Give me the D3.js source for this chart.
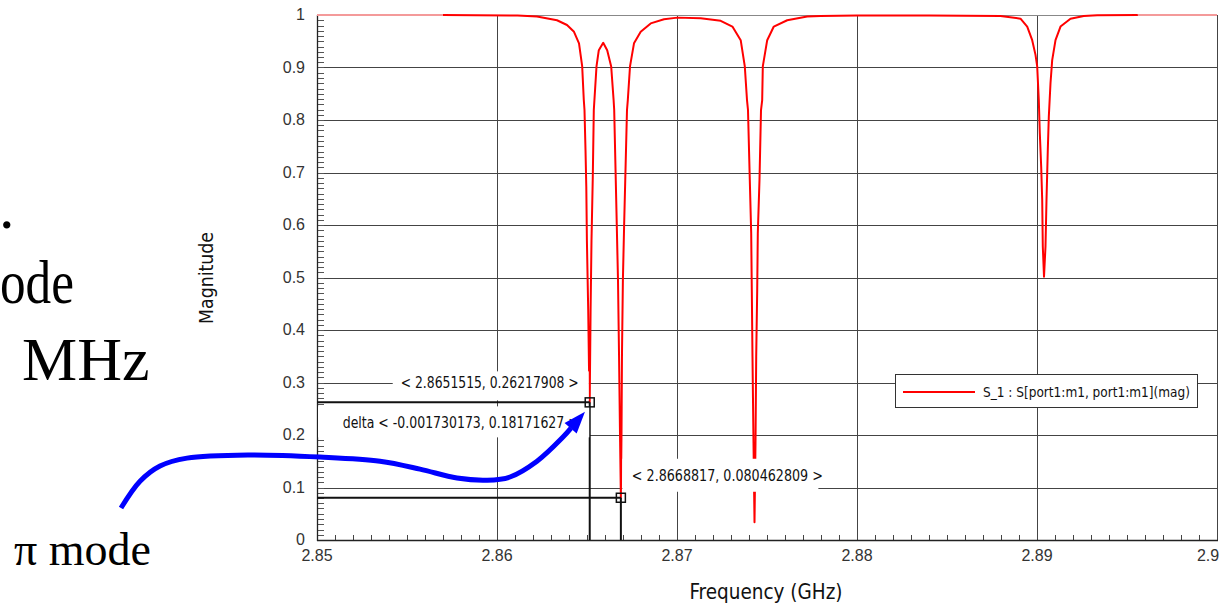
<!DOCTYPE html>
<html><head><meta charset="utf-8">
<script src="https://cdn.jsdelivr.net/npm/d3@7"></script>
<style>
html,body{margin:0;padding:0;background:#fff;}
svg{display:block;}
.tick-label{font-family:"Liberation Sans",Arial,sans-serif;font-size:16px;fill:#333;}
.ann{font-family:"Liberation Sans Narrow","DejaVu Sans Condensed","Liberation Sans",sans-serif;font-size:16px;fill:#111;}
.slide{font-family:"Liberation Serif","Times New Roman",serif;fill:#000;}
</style></head>
<body>
<svg id="chart" width="1221" height="607"></svg>
<script>
// ---------- data ----------
const freq = [2.850000,2.857000,2.861139,2.862222,2.863333,2.863889,2.864278,2.864556,2.864733,2.864822,2.864861,2.864917,2.864961,2.864994,2.865067,2.865111,2.865150,2.865200,2.865250,2.865322,2.865378,2.865528,2.865656,2.865900,2.866122,2.866344,2.866478,2.866511,2.866656,2.866722,2.866778,2.866833,2.866882,2.866917,2.866944,2.866994,2.867061,2.867222,2.867267,2.867389,2.867611,2.867983,2.868539,2.869278,2.870022,2.871317,2.872428,2.873078,2.873539,2.873767,2.873889,2.873944,2.874044,2.874122,2.874156,2.874194,2.874250,2.874306,2.874361,2.874400,2.874456,2.874489,2.874583,2.874667,2.874733,2.874767,2.875011,2.875378,2.876122,2.877233,2.877972,2.880000,2.884000,2.887972,2.889083,2.889456,2.889733,2.889917,2.890011,2.890100,2.890156,2.890233,2.890289,2.890322,2.890389,2.890472,2.890528,2.890600,2.890656,2.890750,2.890844,2.891028,2.891306,2.891861,2.892600,2.893344,2.895611,2.900000];
const mag  = [1.0,1.0,0.999,0.997,0.990,0.981,0.968,0.946,0.902,0.838,0.819,0.743,0.673,0.571,0.438,0.330,0.262,0.438,0.571,0.692,0.819,0.902,0.933,0.947,0.933,0.902,0.838,0.819,0.597,0.495,0.356,0.203,0.0805,0.203,0.356,0.495,0.597,0.819,0.838,0.902,0.946,0.968,0.984,0.992,0.995,0.994,0.989,0.978,0.952,0.902,0.838,0.819,0.686,0.584,0.476,0.349,0.185,0.034,0.185,0.349,0.476,0.584,0.686,0.819,0.838,0.902,0.952,0.978,0.990,0.997,0.998,0.999,0.999,0.998,0.993,0.978,0.952,0.924,0.902,0.838,0.775,0.711,0.648,0.559,0.5015,0.559,0.648,0.743,0.806,0.870,0.914,0.952,0.978,0.993,0.998,0.9995,1.0,1.0];
const visibleRange = [2.857, 2.8956];

const xTicks = [2.85,2.86,2.87,2.88,2.89,2.90];
const xTickLabels = ["2.85","2.86","2.87","2.88","2.89","2.9"];
const yTicks = [0,0.1,0.2,0.3,0.4,0.5,0.6,0.7,0.8,0.9,1.0];
const yTickLabels = ["0","0.1","0.2","0.3","0.4","0.5","0.6","0.7","0.8","0.9","1"];

const markerFreq = [2.8651515, 2.8668817];
const markerMag = [0.26217908, 0.080462809];
const markerLabels = ["< 2.8651515, 0.26217908 >", "< 2.8668817, 0.080462809 >"];
const deltaLabel = "delta < -0.001730173, 0.18171627 >";

const legendLabel = "S_1 : S[port1:m1, port1:m1](mag)";
const xTitle = "Frequency (GHz)";
const yTitle = "Magnitude";

// slide text fragments visible at the left edge
const slideLines = [".", "ode", "MHz"];
const slideBottom = "π mode";

// blue annotation arrow, in data units (freq, mag)
const arrowFreq = [2.839111,2.840167,2.841278,2.842778,2.846278,2.850167,2.853500,2.855722,2.857778,2.859444,2.860722,2.862222,2.863667,2.864111];
const arrowMag  = [0.061,0.112,0.141,0.156,0.162,0.158,0.150,0.135,0.118,0.114,0.120,0.150,0.196,0.213];
const arrowTip = [2.864889, 0.2444];

// ---------- drawing ----------
const svg = d3.select("#chart");
const x = d3.scaleLinear().domain([2.85, 2.90]).range([317, 1217]);
const y = d3.scaleLinear().domain([0, 1]).range([540, 15]);
const c = v => Math.round(v) + 0.5;

// slide text (left)
svg.append("text").attr("class","slide").attr("x",-1).attr("y",228).style("font-size","62px").text(slideLines[0]);
svg.append("text").attr("class","slide").attr("x",0).attr("y",303).style("font-size","62px")
  .attr("textLength",74).attr("lengthAdjust","spacingAndGlyphs").text(slideLines[1]);
svg.append("text").attr("class","slide").attr("x",22).attr("y",380).style("font-size","62px").text(slideLines[2]);
svg.append("text").attr("class","slide").attr("x",14).attr("y",565).style("font-size","46px").text(slideBottom);

const g = svg.append("g");

// grid
g.selectAll(".hgrid").data(yTicks.filter(d=>d>0)).join("line")
  .attr("x1",x(2.85)).attr("x2",x(2.90))
  .attr("y1",d=>c(y(d))).attr("y2",d=>c(y(d)))
  .attr("stroke","#444").attr("stroke-width",1);
g.selectAll(".vgrid").data(xTicks.filter(d=>d>2.85)).join("line")
  .attr("x1",d=>c(x(d))).attr("x2",d=>c(x(d)))
  .attr("y1",y(1)).attr("y2",y(0))
  .attr("stroke","#444").attr("stroke-width",1);

// minor ticks
const yMinor = d3.range(0, 101).map(i => i/100);
g.selectAll(".ymin").data(yMinor).join("line")
  .attr("x1",x(2.85)).attr("x2",x(2.85)+7)
  .attr("y1",d=>c(y(d))).attr("y2",d=>c(y(d)))
  .attr("stroke","#555").attr("stroke-width",1);
const xMinor = d3.range(0, 51).map(i => 2.85 + i/1000);
g.selectAll(".xmin").data(xMinor).join("line")
  .attr("x1",d=>c(x(d))).attr("x2",d=>c(x(d)))
  .attr("y1",y(0)).attr("y2",y(0)-5)
  .attr("stroke","#444").attr("stroke-width",1);

// axes lines
g.append("line").attr("x1",c(x(2.85))).attr("x2",c(x(2.85))).attr("y1",y(1)).attr("y2",y(0)+1).attr("stroke","#222").attr("stroke-width",1.3);
g.append("line").attr("x1",x(2.85)).attr("x2",x(2.90)+1).attr("y1",c(y(0))).attr("y2",c(y(0))).attr("stroke","#222").attr("stroke-width",1.3);
g.append("line").attr("x1",x(2.85)).attr("x2",x(2.90)).attr("y1",c(y(1))).attr("y2",c(y(1))).attr("stroke","#888").attr("stroke-width",1);

// tick labels
g.selectAll(".ylab").data(yTicks).join("text").attr("class","tick-label")
  .attr("x",305).attr("y",d=>y(d)+5).attr("text-anchor","end")
  .text((d,i)=>yTickLabels[i]);
g.selectAll(".xlab").data(xTicks).join("text").attr("class","tick-label")
  .attr("x",d=>Math.min(x(d), 1208)).attr("y",561).attr("text-anchor","middle")
  .text((d,i)=>xTickLabels[i]);

// axis titles
svg.append("text").attr("class","ann").attr("x",766).attr("y",599).attr("text-anchor","middle")
  .attr("textLength",153).attr("lengthAdjust","spacingAndGlyphs").style("font-size","22px").text(xTitle);
svg.append("text").attr("class","ann").attr("transform","translate(213,278) rotate(-90)").attr("text-anchor","middle")
  .attr("textLength",92).attr("lengthAdjust","spacingAndGlyphs").style("font-size","19px").text(yTitle);

// curve
const series = freq.map((f,i)=>({f, m: mag[i]}));
const line = d3.line().x(d=>x(d.f)).y(d=>y(d.m));
const defs = svg.append("defs");
defs.append("clipPath").attr("id","clipIn").append("rect")
  .attr("x",x(visibleRange[0])).attr("y",0).attr("width",x(visibleRange[1])-x(visibleRange[0])).attr("height",607);
const clipOut = defs.append("clipPath").attr("id","clipOut");
clipOut.append("rect").attr("x",0).attr("y",0).attr("width",x(visibleRange[0])).attr("height",607);
clipOut.append("rect").attr("x",x(visibleRange[1])).attr("y",0).attr("width",1221-x(visibleRange[1])).attr("height",607);
g.append("path").datum(series).attr("d",line).attr("fill","none")
  .attr("stroke","#f49a9a").attr("stroke-width",2).attr("clip-path","url(#clipOut)");
g.append("path").datum(series).attr("d",line).attr("fill","none")
  .attr("stroke","#ff0000").attr("stroke-width",2).attr("stroke-linejoin","round").attr("clip-path","url(#clipIn)");

// marker guide lines
markerFreq.forEach((f,i)=>{
  const mx = x(f), my = y(markerMag[i]);
  g.append("line").attr("x1",x(2.85)).attr("x2",mx).attr("y1",my).attr("y2",my).attr("stroke","#111").attr("stroke-width",2);
  g.append("line").attr("x1",mx).attr("x2",mx).attr("y1",my).attr("y2",y(0)).attr("stroke","#111").attr("stroke-width",2);
});

// label boxes (white background) + text
function labelBox(x0, y0, w, h){
  g.append("rect").attr("x",x0).attr("y",y0).attr("width",w).attr("height",h).attr("fill","#fff");
}
const m1x = x(markerFreq[0]), m1y = y(markerMag[0]);
const m2x = x(markerFreq[1]), m2y = y(markerMag[1]);
labelBox(m1x-197, m1y-31, 196, 29);
labelBox(x(2.85)+1, m1y+4, m1x-x(2.85)-1.5, 31);
labelBox(m2x+1.5, m2y-39, 196, 33);
g.append("text").attr("class","ann").attr("x",m1x-100).attr("y",m1y-14).attr("text-anchor","middle")
  .attr("textLength",178).attr("lengthAdjust","spacingAndGlyphs").text(markerLabels[0]);
g.append("text").attr("class","ann").attr("x",m1x-11).attr("y",m1y+26).attr("text-anchor","end")
  .attr("textLength",236).attr("lengthAdjust","spacingAndGlyphs").text(deltaLabel);
g.append("text").attr("class","ann").attr("x",m2x+11).attr("y",m2y-17).attr("text-anchor","start")
  .attr("textLength",191).attr("lengthAdjust","spacingAndGlyphs").text(markerLabels[1]);

// marker squares
markerFreq.forEach((f,i)=>{
  g.append("rect").attr("x",x(f)-4.5).attr("y",y(markerMag[i])-4.5).attr("width",9).attr("height",9)
    .attr("fill","none").attr("stroke","#111").attr("stroke-width",1.5);
});

// legend
const lg = svg.append("g");
lg.append("rect").attr("x",895.5).attr("y",374.5).attr("width",302).attr("height",33).attr("fill","#fff").attr("stroke","#333").attr("stroke-width",1);
lg.append("line").attr("x1",903).attr("x2",975).attr("y1",392).attr("y2",392).attr("stroke","#ff0000").attr("stroke-width",2);
lg.append("text").attr("class","ann").attr("x",983).attr("y",396.5).style("font-size","14px")
  .attr("textLength",207).attr("lengthAdjust","spacingAndGlyphs").text(legendLabel);

// blue arrow
const arrowPts = arrowFreq.map((f,i)=>[x(f), y(arrowMag[i])]);
svg.append("path").attr("d", d3.line().curve(d3.curveCatmullRom)(arrowPts))
  .attr("fill","none").attr("stroke","#0000ff").attr("stroke-width",5).attr("stroke-linecap","butt");
const tip = [x(arrowTip[0]), y(arrowTip[1])];
const last = arrowPts[arrowPts.length-2];
const dx = tip[0]-last[0], dy = tip[1]-last[1], len = Math.hypot(dx,dy);
const ux = dx/len, uy = dy/len, headLen = 22, headW = 8;
const bx = tip[0]-ux*headLen, by = tip[1]-uy*headLen;
svg.append("path").attr("d", d3.line()([tip,[bx-uy*headW, by+ux*headW],[bx+uy*headW, by-ux*headW]]) + "Z")
  .attr("fill","#0000ff");
</script>
</body></html>
